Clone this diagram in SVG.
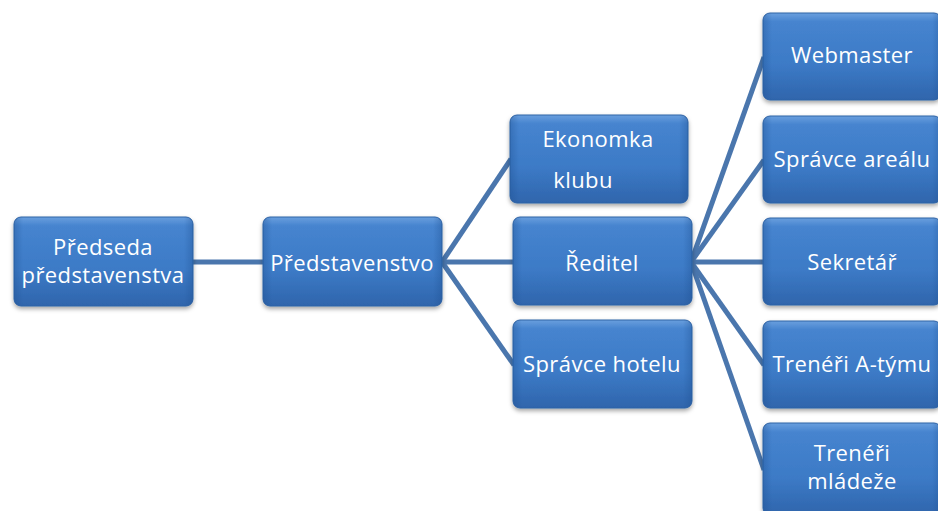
<svg xmlns="http://www.w3.org/2000/svg" width="938" height="511" viewBox="0 0 938 511">
  <defs>
    <linearGradient id="boxFill" x1="0" y1="0" x2="0" y2="1">
      <stop offset="0" stop-color="#6a9fde"/>
      <stop offset="0.1" stop-color="#4684cf"/>
      <stop offset="0.6" stop-color="#3c7ac6"/>
      <stop offset="1" stop-color="#2f65ac"/>
    </linearGradient>
    <linearGradient id="boxEdge" x1="0" y1="0" x2="1" y2="0">
      <stop offset="0" stop-color="#1d4f90" stop-opacity="0.35"/>
      <stop offset="0.05" stop-color="#1d4f90" stop-opacity="0"/>
      <stop offset="0.95" stop-color="#1d4f90" stop-opacity="0"/>
      <stop offset="1" stop-color="#1d4f90" stop-opacity="0.35"/>
    </linearGradient>
    <filter id="shadow" x="-10%" y="-10%" width="120%" height="130%">
      <feDropShadow dx="0" dy="2.5" stdDeviation="2" flood-color="#000" flood-opacity="0.35"/>
    </filter>
    <style>
      .box { fill: url(#boxFill); stroke: #2f64a6; stroke-width: 1; filter: url(#shadow); }
      .edge { fill: url(#boxEdge); stroke: none; }
      .label { fill: #ffffff; font-family: "Open Sans", "Noto Sans", sans-serif; font-size: 22px; letter-spacing: 0.4px; text-anchor: middle; }
      .link { stroke: #4a76ad; stroke-width: 5; fill: none; }
    </style>
  </defs>
  <rect width="938" height="511" fill="#ffffff"/>

  <!-- connectors -->
  <g id="connectors">
    <line class="link" x1="193" y1="262" x2="263" y2="262"/>
    <line class="link" x1="442" y1="262" x2="511" y2="159"/>
    <line class="link" x1="442" y1="262" x2="514" y2="262"/>
    <line class="link" x1="442" y1="262" x2="514" y2="365"/>
    <line class="link" x1="691" y1="262" x2="764" y2="57"/>
    <line class="link" x1="691" y1="262" x2="764" y2="160"/>
    <line class="link" x1="691" y1="262" x2="764" y2="262"/>
    <line class="link" x1="691" y1="262" x2="764" y2="365"/>
    <line class="link" x1="691" y1="262" x2="764" y2="470"/>
  </g>

  <!-- level 1 -->
  <g id="predseda">
    <rect class="box" x="14" y="217" width="179" height="89" rx="7"/>
    <rect class="edge" x="14" y="217" width="179" height="89" rx="7"/>
    <text class="label" x="103" y="255">Předseda</text>
    <text class="label" x="103" y="283">představenstva</text>
  </g>

  <!-- level 2 -->
  <g id="predstavenstvo">
    <rect class="box" x="263" y="217" width="179" height="89" rx="7"/>
    <rect class="edge" x="263" y="217" width="179" height="89" rx="7"/>
    <text class="label" x="352" y="271">Představenstvo</text>
  </g>

  <!-- level 3 -->
  <g id="ekonomka">
    <rect class="box" x="510" y="115" width="178" height="88" rx="7"/>
    <rect class="edge" x="510" y="115" width="178" height="88" rx="7"/>
    <text class="label" x="598" y="147">Ekonomka</text>
    <text class="label" x="583" y="188">klubu</text>
  </g>
  <g id="reditel">
    <rect class="box" x="513" y="217" width="179" height="88" rx="7"/>
    <rect class="edge" x="513" y="217" width="179" height="88" rx="7"/>
    <text class="label" x="602" y="271">Ředitel</text>
  </g>
  <g id="spravce-hotelu">
    <rect class="box" x="513" y="320" width="179" height="88" rx="7"/>
    <rect class="edge" x="513" y="320" width="179" height="88" rx="7"/>
    <text class="label" x="602" y="372">Správce hotelu</text>
  </g>

  <!-- level 4 -->
  <g id="webmaster">
    <rect class="box" x="763" y="13" width="178" height="87" rx="7"/>
    <rect class="edge" x="763" y="13" width="178" height="87" rx="7"/>
    <text class="label" x="852" y="63">Webmaster</text>
  </g>
  <g id="spravce-arealu">
    <rect class="box" x="763" y="116" width="178" height="87" rx="7"/>
    <rect class="edge" x="763" y="116" width="178" height="87" rx="7"/>
    <text class="label" x="852" y="167">Správce areálu</text>
  </g>
  <g id="sekretar">
    <rect class="box" x="763" y="218" width="178" height="87" rx="7"/>
    <rect class="edge" x="763" y="218" width="178" height="87" rx="7"/>
    <text class="label" x="852" y="270">Sekretář</text>
  </g>
  <g id="treneri-a">
    <rect class="box" x="763" y="321" width="178" height="87" rx="7"/>
    <rect class="edge" x="763" y="321" width="178" height="87" rx="7"/>
    <text class="label" x="852" y="372">Trenéři A-týmu</text>
  </g>
  <g id="treneri-mladez">
    <rect class="box" x="763" y="423" width="178" height="92" rx="7"/>
    <rect class="edge" x="763" y="423" width="178" height="92" rx="7"/>
    <text class="label" x="852" y="461">Trenéři</text>
    <text class="label" x="852" y="489">mládeže</text>
  </g>
</svg>
